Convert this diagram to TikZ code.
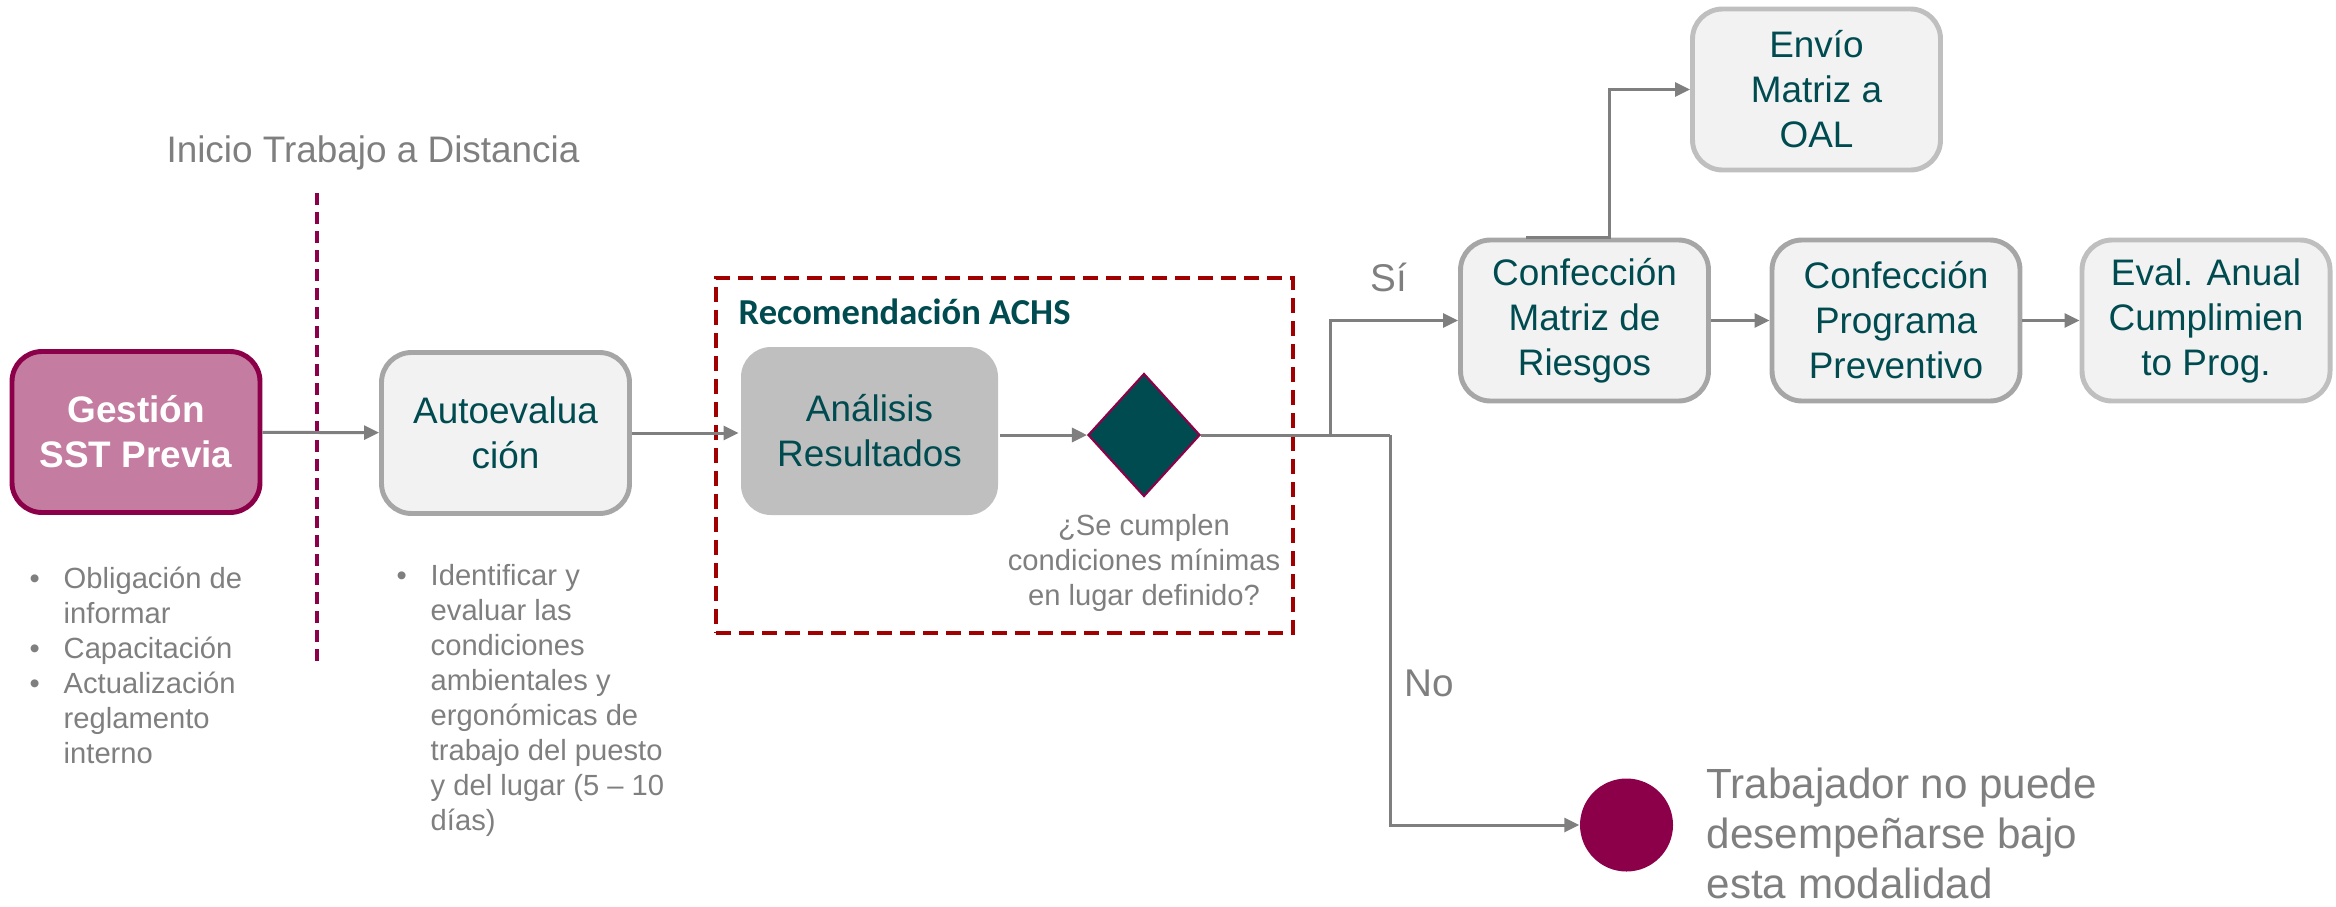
\documentclass[tikz,border=0pt]{standalone}
\usepackage{fontspec}
\setmainfont{Liberation Sans}
\newfontfamily\calibri{Carlito}
\usetikzlibrary{shapes.geometric,arrows.meta}

\definecolor{vino}{HTML}{8B0049}
\definecolor{rosa}{HTML}{C47CA0}
\definecolor{petroleo}{HTML}{004B50}
\definecolor{grisfondo}{HTML}{F2F2F2}
\definecolor{grisborde}{HTML}{A6A6A6}
\definecolor{grisclaro}{HTML}{BFBFBF}
\definecolor{gristexto}{HTML}{7F7F7F}
\definecolor{rojoachs}{HTML}{A00000}

\newcommand{\bul}{\makebox[0.34cm][l]{\textbullet}}
\newcommand{\sig}{\hspace*{0.34cm}}

\begin{document}
\begin{tikzpicture}[
    caja/.style={rectangle, rounded corners=0.3cm, minimum width=2.48cm, minimum height=1.61cm,
      line width=1.4pt, fill=grisfondo, draw=grisborde, text=petroleo, align=center, inner sep=0,
      font=\fontsize{10.5}{12.8}\selectfont},
    nota/.style={text=gristexto, inner sep=0, align=left, font=\fontsize{8.3}{9.96}\selectfont},
    rama/.style={text=gristexto, inner sep=0, font=\fontsize{11}{13}\selectfont},
    linea/.style={draw=gristexto, line width=0.85pt},
    flecha/.style={linea, -{Triangle[length=0.15cm, width=0.14cm]}}
  ]
  \useasboundingbox (0,0) rectangle (23.36,-9.06);

  % cajas del flujo
  \node[caja, fill=rosa, draw=vino, text=white, font=\bfseries\fontsize{10.5}{12.8}\selectfont] (gestion) at (1.36,-4.32) {Gestión\\SST Previa};
  \node[caja] (autoeval) at (5.055,-4.33) {Autoevalua\\ción};
  \node[caja, fill=grisclaro, draw=none, minimum width=2.57cm, minimum height=1.68cm] (analisis) at (8.695,-4.31) {Análisis\\Resultados};
  \node[diamond, fill=petroleo, draw=vino, line width=0.6pt, minimum width=1.12cm, minimum height=1.23cm, inner sep=0] (rombo) at (11.44,-4.35) {};
  \node[caja, draw=grisclaro] (envio) at (18.165,-0.895) {Envío\\Matriz a\\OAL};
  \node[caja] (matriz) at (15.845,-3.205) {Confección\\Matriz de\\Riesgos};
  \node[caja] (programa) at (18.96,-3.205) {Confección\\Programa\\Preventivo};
  \node[caja, draw=grisclaro] (anual) at (22.06,-3.205) {Eval. Anual\\Cumplimien\\to Prog.};
  \node[circle, fill=vino, minimum size=0.93cm, inner sep=0] (fin) at (16.265,-8.25) {};

  % recuadro ACHS y linea de inicio
  \node[draw=rojoachs, line width=1.3pt, dash pattern=on 0.15cm off 0.08cm, minimum width=5.77cm, minimum height=3.55cm, inner sep=0] (recomendacion) at (10.045,-4.555) {};
  \node[anchor=west, text=petroleo, inner sep=0, font=\calibri\bfseries\fontsize{10.4}{12}\selectfont] (titulo) at (7.38,-3.12) {Recomendación ACHS};
  \coordinate (inicioarriba) at (3.17,-1.93);
  \coordinate (inicioabajo) at (3.17,-6.68);
  \draw[vino, line width=1.1pt, dash pattern=on 0.12cm off 0.07cm] (inicioarriba) -- (inicioabajo);
  \node[text=gristexto, inner sep=0, font=\fontsize{10.5}{12}\selectfont] (inicio) at (3.73,-1.53) {Inicio Trabajo a Distancia};

  % textos
  \node[nota, anchor=west] (gestionlista) at (0.29,-6.655) {\bul Obligación de\\\sig informar\\\bul Capacitación\\\bul Actualización\\\sig reglamento\\\sig interno};
  \node[nota, anchor=west] (autolista) at (3.96,-7.005) {\bul Identificar y\\\sig evaluar las\\\sig condiciones\\\sig ambientales y\\\sig ergonómicas de\\\sig trabajo del puesto\\\sig y del lugar (5 – 10\\\sig días)};
  \node[nota, align=center] (pregunta) at (11.44,-5.63) {¿Se cumplen\\condiciones mínimas\\en lugar definido?};
  \node[rama] (si) at (13.89,-2.77) {Sí};
  \node[rama, anchor=west] (no) at (14.04,-6.83) {No};
  \node[text=gristexto, inner sep=0, anchor=west, align=left, font=\fontsize{12}{14.2}\selectfont] (trabajador) at (17.06,-8.33) {Trabajador no puede\\desempeñarse bajo\\esta modalidad};

  % conectores
  \coordinate (ramasi) at (13.3,-4.35);
  \coordinate (cruce) at (13.9,-4.35);
  \draw[flecha] (gestion) -- (autoeval);
  \draw[flecha] (autoeval) -- (analisis.west |- autoeval);
  \draw[flecha] (analisis.east |- rombo) -- (rombo);
  \draw[linea] (rombo) -- (cruce);
  \draw[flecha] (ramasi) |- (matriz);
  \draw[flecha] (cruce) |- (fin);
  \draw[flecha] (matriz) -- (programa);
  \draw[flecha] (programa) -- (anual);
  \draw[flecha] ([xshift=-0.585cm]matriz.north) -- ([xshift=0.245cm]matriz.north) |- (envio);

\end{tikzpicture}
\end{document}
